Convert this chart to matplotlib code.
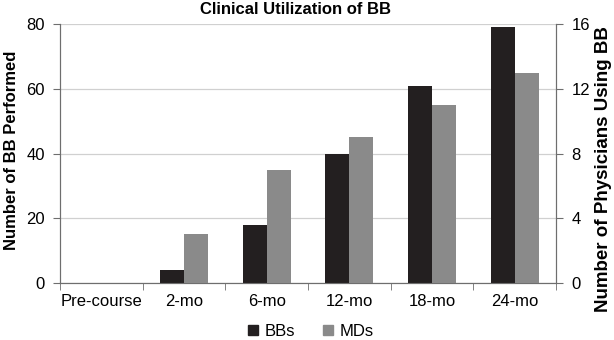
import matplotlib
matplotlib.use("Agg")
import matplotlib.pyplot as plt
import numpy as np
from matplotlib.lines import Line2D

plt.rcParams['font.family'] = ['Liberation Sans', 'DejaVu Sans']

categories = ["Pre-course", "2-mo", "6-mo", "12-mo", "18-mo", "24-mo"]
bbs = [0, 4, 18, 40, 61, 79]
mds = [0, 3, 7, 9, 11, 13]

bb_color = "#231f20"
md_color = "#8a8a8a"
axis_color = "#6e6e6e"

fig = plt.figure(figsize=(6.14, 3.4), dpi=100)
ax = fig.add_axes([60/614, 1-283/340, 496/614, 259/340])
ax2 = ax.twinx()

x = np.arange(len(categories))
w = 0.29
ax.bar(x - w/2, bbs, width=w, color=bb_color, zorder=3)
ax2.bar(x + w/2, mds, width=w, color=md_color, zorder=3)

ax.set_xlim(-0.5, len(categories) - 0.5)
ax.set_ylim(0, 80)
ax2.set_ylim(0, 16)
ax.set_yticks([0, 20, 40, 60, 80])
ax2.set_yticks([0, 4, 8, 12, 16])
ax.yaxis.grid(True, color="#d0d0d0", linewidth=0.9, zorder=0)
ax.set_axisbelow(True)

ax.set_xticks(x)
ax.set_xticklabels(categories, fontsize=12)
ax.set_xticks(np.arange(len(categories) + 1) - 0.5, minor=True)
ax.tick_params(axis='x', which='major', length=0, pad=8)
ax.tick_params(axis='x', which='minor', length=5, color=axis_color, direction='out')
ax.tick_params(axis='y', labelsize=12, length=5, color=axis_color, pad=6)
ax2.tick_params(axis='y', labelsize=12, length=5, color=axis_color, pad=6)

for a in (ax, ax2):
    a.spines['top'].set_visible(False)
    for s in ('left', 'right', 'bottom'):
        a.spines[s].set_color(axis_color)

ax.set_ylabel("Number of BB Performed", fontsize=12, fontweight='bold')
ax.yaxis.set_label_coords((19-60)/496, (283-150)/259)
ax2.set_ylabel("Number of Physicians Using BB", fontsize=13.5, fontweight='bold')
ax2.yaxis.set_label_coords((595-60)/496, (283-169)/259)
fig.text(296/614, 1-14.5/340, "Clinical Utilization of BB", fontsize=12,
         fontweight='bold', ha='center', va='baseline')

handles = [Line2D([], [], marker='s', linestyle='none', color=bb_color, markersize=6.5),
           Line2D([], [], marker='s', linestyle='none', color=md_color, markersize=6.5)]
fig.legend(handles, ["BBs", "MDs"], loc='center', bbox_to_anchor=(309/614, 1-331/340),
           ncol=2, frameon=False, fontsize=12, handletextpad=0.2, columnspacing=1.5,
           handlelength=1.0)

fig.savefig("out.png", dpi=100)
